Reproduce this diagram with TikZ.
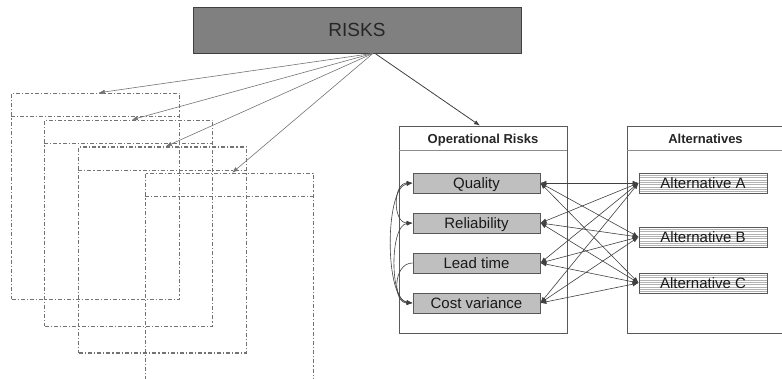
\documentclass[tikz,border=0pt]{standalone}
\usepackage{fontspec}
\setmainfont{Liberation Sans}
\usetikzlibrary{arrows.meta,calc}
\begin{document}
\begin{tikzpicture}[x=1pt,y=-1pt,
  tip/.style={-{Latex[length=6pt,width=4.5pt]}},
  riskbox/.style={draw=black!75,fill=black!50,line width=0.8pt,minimum width=328pt,minimum height=46pt,inner sep=0pt,font=\fontsize{19}{19}\selectfont,text=black!85,text height=13.6pt,text depth=0pt},
  panel/.style={draw=black!65,line width=0.7pt,minimum width=168pt,minimum height=207pt,inner sep=0pt},
  dbox/.style={draw=black!55,line width=1.1pt,dash pattern=on 4pt off 2pt on 1.2pt off 2pt,minimum width=168pt,minimum height=206pt,inner sep=0pt},
  dline/.style={draw=black!55,line width=1.1pt,dash pattern=on 4pt off 2pt on 1.2pt off 2pt},
  pline/.style={draw=black!45,line width=0.8pt},
  ptitle/.style={font=\bfseries\fontsize{13}{13}\selectfont,text=black!85,text height=9.3pt,text depth=0pt,inner sep=0pt},
  item/.style={draw=black!65,fill=black!25,line width=0.8pt,minimum width=127pt,minimum height=20pt,inner sep=0pt,font=\fontsize{15}{15}\selectfont,text=black!90,text height=10.7pt,text depth=0pt},
  alt/.style={draw=black!65,fill=white,line width=0.8pt,minimum width=128pt,minimum height=20pt,inner sep=0pt,font=\fontsize{15}{15}\selectfont,text=black!90,text height=10.7pt,text depth=0pt,
    path picture={\foreach \k in {1,...,8}{\draw[black!30,line width=0.4pt] ([yshift={-\k*2.3pt}]path picture bounding box.north west) -- ([yshift={-\k*2.3pt}]path picture bounding box.north east);}}},
  fan/.style={tip,draw=black!55,line width=0.6pt},
  cross/.style={{Latex[length=6pt,width=4.5pt]}-{Latex[length=6pt,width=4.5pt]},draw=black!75,line width=0.6pt},
  curv/.style={draw=black!75,line width=0.6pt}
]
\useasboundingbox (0,0) rectangle (782,379);
\clip (0,0) rectangle (782,379);

% top box
\node[riskbox] (risks) at (357,30) {RISKS};
\coordinate (apex) at ([xshift=16pt]risks.south);

% dash-dot copies
\node[dbox] (d1) at (95.8,196.3) {};
\node[dbox] (d2) at (128.8,223.3) {};
\node[dbox] (d3) at (162.8,250) {};
\node[dbox] (d4) at (229.2,276.3) {};
\foreach \d in {d1,d2,d3,d4}{
  \draw[dline] ([yshift=-24pt]\d.north west) -- ([yshift=-24pt]\d.north east);
}
\foreach \d in {d1,d2,d3,d4}{
  \draw[fan] (apex) -- ([xshift=3pt]\d.north);
}

% operational risks panel
\node[panel] (ops) at (483,229.5) {};
\draw[pline] ([yshift=-25pt]ops.north west) -- ([yshift=-25pt]ops.north east);
\node[ptitle] (opst) at ($(ops.north)+(0,13)$) {Operational Risks};

% alternatives panel
\node[panel,minimum width=157pt] (alts) at (705.5,229.5) {};
\draw[pline] ([yshift=-25pt]alts.north west) -- ([yshift=-25pt]alts.north east);
\node[ptitle] (altst) at ($(alts.north)+(0,13)$) {Alternatives};

\draw[tip,draw=black!75,line width=0.8pt] ([xshift=2pt]apex) -- ([xshift=-3pt]ops.north);

% items
\node[item] (q) at (476.5,183) {Quality};
\node[item] (r) at (476.5,223) {Reliability};
\node[item] (l) at (476.5,263) {Lead time};
\node[item] (cv) at (476.5,303) {Cost variance};

\node[alt] (aA) at (703,183) {Alternative A};
\node[alt] (aB) at (703,237) {Alternative B};
\node[alt] (aC) at (703,283) {Alternative C};

\foreach \o in {q,r,l,cv}{
  \foreach \a in {aA,aB,aC}{
    \draw[cross] (\o.east) -- (\a.west);
  }
}

% left-side links
\draw[curv,cross] (q.west) .. controls +(-20,0) and +(-20,0) .. (r.west);
\draw[curv,cross] (q.west) .. controls +(-28,4) and +(-28,-4) .. (cv.west);
\draw[curv,cross] (r.west) .. controls +(-23,2) and +(-23,-2) .. (cv.west);
\draw[curv,tip] (l.west) .. controls +(-20,0) and +(-20,0) .. (cv.west);
\end{tikzpicture}
\end{document}
